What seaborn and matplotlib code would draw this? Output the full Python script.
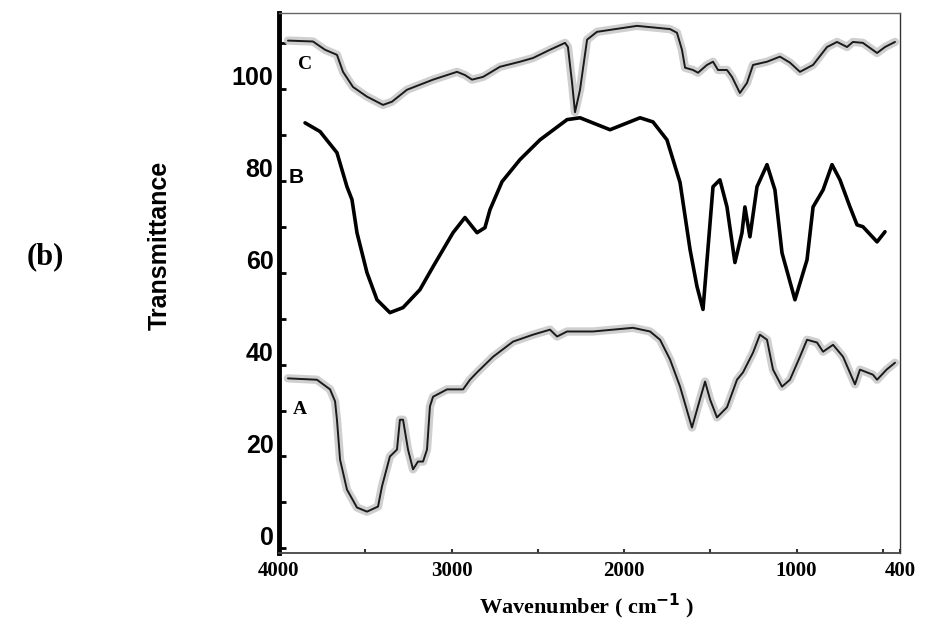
import numpy as np
import pandas as pd
import matplotlib
matplotlib.use("Agg")
import matplotlib.pyplot as plt
import matplotlib.transforms as mtransforms
from matplotlib.ticker import MultipleLocator, FixedLocator
import seaborn as sns

# ---- data ----
wn_A = [3948, 3780, 3704, 3675, 3664, 3646, 3606, 3548, 3490, 3426, 3403, 3357, 3316, 3299, 3281,
        3252, 3223, 3194, 3165, 3142, 3125, 3107, 3026, 2933, 2893, 2852, 2759, 2643, 2528, 2429,
        2388, 2330, 2180, 1948, 1849, 1791, 1733, 1675, 1606, 1560, 1530, 1501, 1461, 1403, 1345,
        1310, 1252, 1212, 1171, 1136, 1084, 1038, 980, 939, 881, 846, 788, 730, 661, 632, 557, 533,
        478, 429]
T_A = [37, 36.7, 34.6, 32, 28, 19.3, 12.8, 8.9, 8, 9.1, 13.5, 20, 21.5, 28, 28,
       21.5, 17.2, 18.9, 18.9, 21.5, 30.9, 33, 34.6, 34.6, 36.7, 38.3, 41.7, 45, 46.5, 47.6,
       46.1, 47.2, 47.2, 48, 47.2, 45.4, 41.1, 35.2, 26.3, 32.4, 36.3, 32.4, 28.5, 30.7, 36.7,
       38.3, 42.6, 46.5, 45.4, 38.9, 35.2, 36.7, 41.7, 45.4, 44.8, 42.8, 44.3, 41.7, 35.7, 38.9, 37.8, 36.7,
       38.9, 40.4]

wn_B = [3849, 3762, 3664, 3606, 3577, 3548, 3490, 3432, 3357, 3281, 3183, 3107, 2991, 2922, 2852,
        2806, 2777, 2707, 2603, 2487, 2330, 2255, 2081, 1907, 1832, 1751, 1675, 1617, 1577, 1542,
        1484, 1444, 1403, 1357, 1316, 1299, 1270, 1229, 1171, 1125, 1084, 1009, 939, 904, 846,
        794, 748, 690, 649, 615, 533, 487]
T_B = [92.6, 90.7, 86.1, 78.7, 75.9, 68.7, 60, 54.1, 51.3, 52.4, 56.3, 61.3, 68.7, 72, 68.7,
       69.8, 73.7, 79.8, 84.6, 88.9, 93.3, 93.7, 91.1, 93.7, 92.8, 88.9, 79.6, 65, 57, 52,
       78.7, 80.2, 74.3, 62.2, 68.7, 74.3, 67.8, 78.7, 83.5, 78, 64.3, 54.1, 62.8, 74.3, 78,
       83.5, 80.2, 74.3, 70.4, 70, 66.7, 68.9]

wn_C = [3948, 3803, 3733, 3664, 3629, 3571, 3490, 3397, 3345, 3258, 3107, 2968, 2922, 2881, 2817,
        2719, 2603, 2528, 2429, 2342, 2325, 2301, 2284, 2255, 2214, 2157, 1925, 1733, 1693, 1664,
        1646, 1600, 1571, 1519, 1484, 1455, 1403, 1374, 1328, 1287, 1252, 1171, 1096, 1038, 980,
        904, 823, 765, 707, 673, 615, 574, 533, 487, 429]
T_C = [110.5, 110.3, 108.5, 107.4, 103.7, 100.4, 98.3, 96.5, 97.2, 99.8, 102, 103.7, 103, 102, 102.6,
       104.8, 105.9, 106.7, 108.5, 110, 109.1, 101.3, 94.9, 99.8, 110.7, 112.4, 113.7, 113, 112.2, 108.5,
       104.6, 104.1, 103.5, 105.2, 105.9, 104.1, 104.1, 102.6, 99.1, 101.3, 105.2, 105.9, 107, 105.7, 103.7,
       105.2, 109.1, 110.2, 109.1, 110.2, 110, 108.9, 107.8, 109.1, 110.2]

x_ticks = [4000, 3000, 2000, 1000, 400]
x_tick_labels = ["4000", "3000", "2000", "1000", "400"]
y_ticks = [0, 20, 40, 60, 80, 100]
y_tick_labels = ["0", "20", "40", "60", "80", "100"]
curve_labels = ["A", "B", "C"]

dfA = pd.DataFrame({"wn": wn_A, "T": T_A})
dfB = pd.DataFrame({"wn": wn_B, "T": T_B})
dfC = pd.DataFrame({"wn": wn_C, "T": T_C})

sns.set_style("white")
plt.rcParams["font.family"] = ["Liberation Serif", "DejaVu Serif"]
plt.rcParams["text.color"] = "black"
plt.rcParams["xtick.color"] = "black"
plt.rcParams["ytick.color"] = "black"

W, H = 932, 621
fig = plt.figure(figsize=(W / 100, H / 100), dpi=100)
ax = fig.add_axes([279 / W, 1 - 553 / H, (900 - 279) / W, (553 - 13) / H])

# gray halo for the scanned curves A and C
for df in (dfA, dfC):
    sns.lineplot(data=df, x="wn", y="T", ax=ax, sort=False, color="#c4c4c4", lw=6,
                 alpha=0.8, solid_joinstyle="round", solid_capstyle="round")
    sns.lineplot(data=df, x="wn", y="T", ax=ax, sort=False, color="#1a1a1a", lw=1.4)
sns.lineplot(data=dfB, x="wn", y="T", ax=ax, sort=False, color="black", lw=2.6)

ax.set_xlim(4000, 400)
ax.set_ylim(-1, 116.5)
ax.set_xlabel("")
ax.set_ylabel("")

ax.xaxis.set_major_locator(FixedLocator(x_ticks))
ax.set_xticklabels(x_tick_labels, fontsize=15, fontweight="bold",
                   family=["Liberation Serif", "DejaVu Serif"])
ax.xaxis.set_minor_locator(FixedLocator([3500, 2500, 1500, 500]))
ax.tick_params(axis="x", which="both", bottom=True, direction="in", length=3, width=1.5, pad=6,
               colors="#333333", labelcolor="black")

ax.yaxis.set_major_locator(FixedLocator(y_ticks))
ax.set_yticklabels(y_tick_labels, fontsize=18, fontweight="bold",
                   family=["Liberation Sans", "DejaVu Sans"])
ax.yaxis.set_minor_locator(MultipleLocator(10))
ax.tick_params(axis="y", which="both", left=True, direction="in", length=5, width=2, pad=4,
               colors="black", labelcolor="black")
offset = mtransforms.ScaledTranslation(0, 13 / 100, fig.dpi_scale_trans)
for lab in ax.get_yticklabels():
    lab.set_transform(lab.get_transform() + offset)

ax.spines["left"].set_linewidth(3.5)
ax.spines["left"].set_color("black")
ax.spines["bottom"].set_linewidth(1.3)
ax.spines["bottom"].set_color("#444444")
ax.spines["top"].set_linewidth(1.0)
ax.spines["top"].set_color("#666666")
ax.spines["right"].set_linewidth(1.0)
ax.spines["right"].set_color("#333333")

# curve labels
ax.text(3878, 30.2, curve_labels[0], fontsize=14, fontweight="bold", ha="center", va="center",
        family=["Liberation Serif"])
ax.text(3901, 80.7, curve_labels[1], fontsize=15, fontweight="bold", ha="center", va="center",
        family=["Liberation Sans"])
ax.text(3849, 105.2, curve_labels[2], fontsize=14, fontweight="bold", ha="center", va="center",
        family=["Liberation Serif"])

fig.text(587 / W, 1 - 606 / H, "Wavenumber ( cm$^{\\mathbf{-1}}$ )", fontsize=16, fontweight="bold",
         ha="center", va="center", family=["Liberation Serif"])
fig.text(160 / W, 1 - 245 / H, "Transmittance", rotation=90, fontsize=18, fontweight="bold",
         ha="center", va="center", family=["Liberation Sans Narrow", "Liberation Sans"])
fig.text(45 / W, 1 - 257 / H, "(b)", fontsize=22, fontweight="bold", ha="center", va="center",
         family=["Liberation Serif"])

fig.savefig("out.png", dpi=100)
